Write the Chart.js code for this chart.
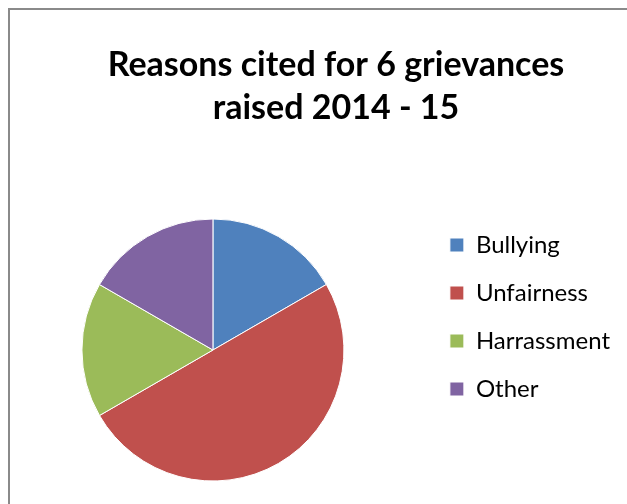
<!DOCTYPE html>
<html>
<head>
<meta charset="utf-8">
<script src="https://cdn.jsdelivr.net/npm/chart.js@4/dist/chart.umd.min.js"></script>
<style>
  body { margin: 0; background: #fff; }
  #frame { position: absolute; left: 8px; top: 8px; width: 700px; height: 600px; border: 2px solid #8a8a8a; }
  #chart { position: absolute; left: 0; top: 0; }
</style>
</head>
<body>
<div id="frame"></div>
<canvas id="chart" width="627" height="504"></canvas>
<script>
//* DATOS
const Titulo = ['Reasons cited for 6 grievances', 'raised 2014 - 15'];
const Razones = ['Bullying', 'Unfairness', 'Harrassment', 'Other'];
const Cantidades = [1, 3, 1, 1];
const Colores = ['#4F81BD', '#C0504D', '#9BBB59', '#8064A2'];

const ctx = document.getElementById('chart');

// el titulo va centrado sobre todo el recuadro, no sobre el area del pie
const CentrarTitulo = {
    id: 'centrarTitulo',
    afterLayout(chart) {
        const t = chart.titleBlock;
        const dx = 336 - (t.left + t.right) / 2;
        t.left += dx;
        t.right += dx;
    }
};

new Chart(ctx, {
    type: 'pie',
    data: {
        labels: Razones,
        datasets: [{
            data: Cantidades,
            backgroundColor: Colores,
            borderColor: '#ffffff',
            borderWidth: 1,
            radius: 131
        }]
    },
    options: {
        responsive: false,
        animation: false,
        events: [],
        layout: {
            padding: { left: 0, right: 7, top: 0, bottom: 13 }
        },
        plugins: {
            title: {
                display: true,
                text: Titulo,
                color: '#000',
                font: { family: 'Lato', size: 34, weight: 'bold', lineHeight: 1.25 },
                padding: { top: 44, bottom: 80 }
            },
            legend: {
                position: 'right',
                align: 'start',
                fullSize: false,
                labels: {
                    boxWidth: 14,
                    boxHeight: 14,
                    padding: 24,
                    color: '#000',
                    font: { family: 'Lato', size: 24 }
                }
            },
            tooltip: { enabled: false }
        }
    },
    plugins: [CentrarTitulo]
});
</script>
</body>
</html>
